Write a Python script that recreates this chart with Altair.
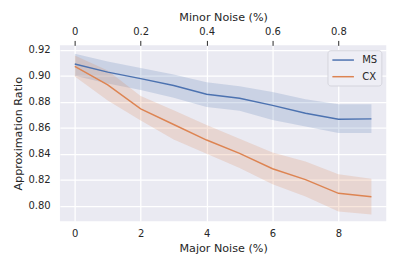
import altair as alt
import pandas as pd

major = [0, 1, 2, 3, 4, 5, 6, 7, 8, 9]
minor_ticks = [0, 0.2, 0.4, 0.6, 0.8]
y_ticks = [0.80, 0.82, 0.84, 0.86, 0.88, 0.90, 0.92]
series = ["MS", "CX"]
colors = ["#4c72b0", "#dd8452"]

ms_mean = [0.9090, 0.9028, 0.8978, 0.8925, 0.8858, 0.8826, 0.8772, 0.8712, 0.8665, 0.8668]
ms_lo = [0.9000, 0.8940, 0.8890, 0.8830, 0.8760, 0.8730, 0.8660, 0.8610, 0.8560, 0.8560]
ms_hi = [0.9170, 0.9110, 0.9060, 0.9010, 0.8950, 0.8920, 0.8875, 0.8820, 0.8780, 0.8780]

cx_mean = [0.9072, 0.8930, 0.8745, 0.8625, 0.8505, 0.8402, 0.8284, 0.8200, 0.8095, 0.8068]
cx_lo = [0.8995, 0.8810, 0.8655, 0.8510, 0.8400, 0.8290, 0.8165, 0.8070, 0.7955, 0.7932]
cx_hi = [0.9155, 0.9040, 0.8845, 0.8735, 0.8620, 0.8515, 0.8410, 0.8340, 0.8242, 0.8208]

rows = []
for name, m, lo, hi in [("MS", ms_mean, ms_lo, ms_hi), ("CX", cx_mean, cx_lo, cx_hi)]:
    for i, x in enumerate(major):
        rows.append({"series": name, "major": x, "mean": m[i], "lo": lo[i], "hi": hi[i]})
df = pd.DataFrame(rows)

FONT = "DejaVu Sans"
TXT = "#262626"

x_scale = alt.Scale(domain=[-0.45, 9.45], nice=False, zero=False)
y_scale = alt.Scale(domain=[0.788, 0.9234], nice=False, zero=False)
x_axis = alt.Axis(values=[0, 2, 4, 6, 8], title="Major Noise (%)",
                  labelPadding=8, titlePadding=4)
y_axis = alt.Axis(values=y_ticks, format=".2f", title="Approximation Ratio",
                  labelPadding=10, titlePadding=5, labelOverlap=False)

def band(name, col):
    return alt.Chart(df).transform_filter(alt.datum.series == name).mark_area(
        color=col, opacity=0.2
    ).encode(
        x=alt.X("major:Q", scale=x_scale, axis=x_axis),
        y=alt.Y("lo:Q", scale=y_scale, axis=y_axis),
        y2="hi:Q",
    )

line = alt.Chart(df).mark_line(strokeWidth=1.5).encode(
    x=alt.X("major:Q", scale=x_scale, axis=x_axis),
    y=alt.Y("mean:Q", scale=y_scale, axis=y_axis),
    color=alt.Color("series:N", sort=series,
                    scale=alt.Scale(domain=series, range=colors),
                    legend=alt.Legend(title=None, orient="top-right", offset=5,
                                      fillColor="#eeeef5", strokeColor="#d4d4dc",
                                      cornerRadius=3, padding=3.5,
                                      symbolType="M-2,0H2", symbolSize=121,
                                      symbolStrokeWidth=1.5, symbolOffset=6,
                                      labelOffset=13, rowPadding=5,
                                      labelFont=FONT, labelFontSize=10.2,
                                      labelColor=TXT)),
)

top = alt.Chart(pd.DataFrame({"minor": minor_ticks})).mark_point(opacity=0).encode(
    x=alt.X("minor:Q", scale=alt.Scale(domain=[-0.045, 0.945], nice=False, zero=False),
            axis=alt.Axis(orient="top", values=minor_ticks, title="Minor Noise (%)",
                          labelExpr="datum.value == 0 ? '0' : format(datum.value, '.1f')",
                          ticks=True, tickSize=5, tickColor=TXT, tickWidth=1,
                          grid=False, labelPadding=4, titlePadding=4)),
    y=alt.value(0),
)

chart = alt.layer(alt.layer(band("MS", colors[0]), band("CX", colors[1]), line), top).resolve_scale(
    x="independent"
).properties(
    width=333, height=179.5,
    autosize=alt.AutoSizeParams(type="none"),
    padding={"left": 53, "top": 35.5, "right": 13, "bottom": 40},
    background="white",
).configure_view(
    fill="#eaeaf2", stroke=None
).configure_axis(
    domain=False, ticks=False, grid=True, gridColor="white", gridWidth=1.3,
    labelFont=FONT, labelFontSize=10.2, labelColor=TXT,
    titleFont=FONT, titleFontSize=11.4, titleFontWeight="normal", titleColor=TXT,
)

chart.save("out.html", embed_options={"renderer": "svg", "actions": False})
